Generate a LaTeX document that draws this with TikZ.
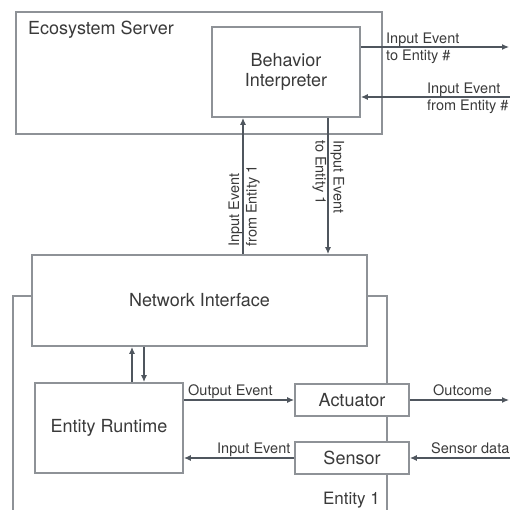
\documentclass[tikz,border=0pt]{standalone}
\usepackage{fontspec}
\setmainfont{TeX Gyre Heros}
\usetikzlibrary{arrows.meta}
\definecolor{txt}{HTML}{3A3A3A}
\definecolor{boxgray}{HTML}{8E9297}
\definecolor{arrgray}{HTML}{4F565E}
\tikzset{
  box/.style={draw=boxgray, line width=1.8pt, fill=white, inner sep=0pt},
  frameline/.style={draw=boxgray, line width=1.8pt},
  arr/.style={draw=arrgray, line width=1.2pt, -{Latex[length=7pt,width=6pt]}},
  lbl/.style={font=\fontsize{14.5}{17}\selectfont, text=txt, inner sep=0pt},
  big/.style={font=\fontsize{18}{20}\selectfont, text=txt},
}
\begin{document}
\begin{tikzpicture}[x=1pt,y=-1pt]
\useasboundingbox (0,0) rectangle (510,510);
\clip (0,0) rectangle (510,510);
% Ecosystem server
\node[box, minimum width=366pt, minimum height=122pt] (eco) at (199,73) {};
\node[big, inner sep=0pt, anchor=base west] (ecolbl) at (28,35) {Ecosystem Server};
\node[box, big, align=center, minimum width=148pt, minimum height=90pt] (bi) at (286,72) {Behavior\\Interpreter};
% free ends on the right
\coordinate (o1) at (509,47);
\coordinate (i1) at (511,97);
\draw[arr] (bi.east |- o1) -- (o1);
\draw[arr] (i1) -- (bi.east |- i1);
\node[lbl, anchor=base west] (l1a) at (386,44) {Input Event};
\node[lbl, anchor=base west] (l1b) at (386,61) {to Entity \#};
\node[lbl, anchor=base west] (l2a) at (427,94) {Input Event};
\node[lbl, anchor=base west] (l2b) at (427,111) {from Entity \#};
% Entity frame
\coordinate (fL) at (13,296);
\coordinate (fLb) at (13,511);
\coordinate (fR) at (387,296);
\coordinate (fRb) at (387,511);
% Network interface
\node[box, big, minimum width=335pt, minimum height=91pt] (ni) at (199.5,300.5) {Network Interface};
\draw[frameline] (ni.west |- fL) -- (fL) -- (fLb);
\draw[frameline] (ni.east |- fR) -- (fR) -- (fRb);
% vertical arrows between server and network interface
\coordinate (upx) at (243,0);
\coordinate (dnx) at (328,0);
\draw[arr] (ni.north -| upx) -- (bi.south -| upx);
\draw[arr] (bi.south -| dnx) -- (ni.north -| dnx);
\node[lbl, rotate=90, anchor=base west] (u1) at (239,247) {Input Event};
\node[lbl, rotate=90, anchor=base west] (u2) at (256.5,247) {from Entity 1};
\node[lbl, rotate=-90, anchor=base west] (d1) at (333.5,140) {Input Event};
\node[lbl, rotate=-90, anchor=base west] (d2) at (315.5,140) {to Entity 1};
% Entity runtime, actuator, sensor
\node[box, big, minimum width=148pt, minimum height=90pt] (er) at (109,428) {Entity Runtime};
\node[box, big, minimum width=114pt, minimum height=32pt] (act) at (352,400) {Actuator};
\node[box, big, minimum width=114pt, minimum height=32pt] (sen) at (352,458) {Sensor};
\coordinate (nux) at (132,0);
\coordinate (ndx) at (144,0);
\draw[arr] (er.north -| nux) -- (ni.south -| nux);
\draw[arr] (ni.south -| ndx) -- (er.north -| ndx);
\draw[arr] (er.east |- act) -- (act.west);
\draw[arr] (sen.west) -- (er.east |- sen);
\coordinate (outc) at (509,400);
\coordinate (sd) at (511,458);
\draw[arr] (act.east) -- (outc);
\draw[arr] (sd) -- (sen.east);
\node[lbl, anchor=base west] (oe) at (188,395) {Output Event};
\node[lbl, anchor=base west] (ie) at (217,453) {Input Event};
\node[lbl, anchor=base west] (oc) at (433,395) {Outcome};
\node[lbl, anchor=base west] (sdl) at (431,453) {Sensor data};
\node[big, font=\fontsize{17}{20}\selectfont, inner sep=0pt, anchor=base east] (ent) at (380,504) {Entity 1};
\end{tikzpicture}
\end{document}
